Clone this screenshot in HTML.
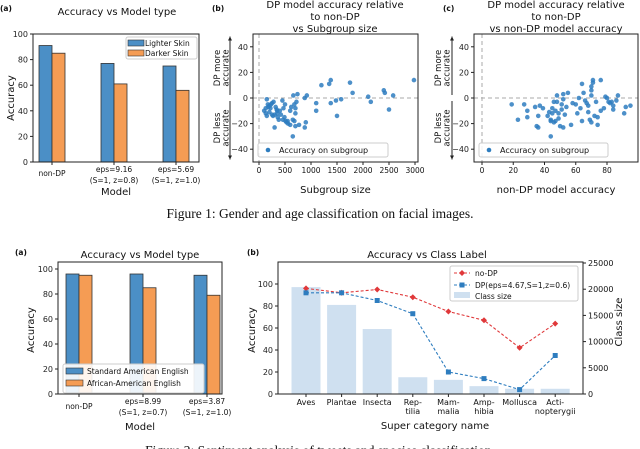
<!DOCTYPE html>
<html><head><meta charset="utf-8">
<style>
html,body{margin:0;padding:0;background:#fff;}
svg{display:block;font-family:"DejaVu Sans","Liberation Sans",sans-serif;}
.cap{font-family:"Liberation Serif",serif;font-size:13.5px;fill:#111;}
</style></head>
<body>
<svg id="fig" width="640" height="449" viewBox="0 0 640 449" xmlns="http://www.w3.org/2000/svg">
<text class="cap" x="320" y="218" text-anchor="middle">Figure 1: Gender and age classification on facial images.</text>
<text class="cap" x="320" y="455" text-anchor="middle">Figure 2: Sentiment analysis of tweets and species classification.</text>
</svg>
<script>
// ---------- data ----------
const f1aCats = [["non-DP"],["eps=9.16","(S=1, z=0.8)"],["eps=5.69","(S=1, z=1.0)"]];
const f1aLight = [91, 77, 75];
const f1aDark = [85, 61, 56];
const f1aTicks = [0,20,40,60,80,100];

const f1bX = [150,100,130,150,170,180,200,220,250,280,300,320,340,360,380,400,420,450,470,490,510,530,560,600,620,650,660,680,700,700,720,740,770,650,300,880,900,880,920,1100,1100,1200,1350,1380,1380,1480,1500,1580,1750,1800,2100,2150,2400,2420,2500,2580,2980,130,200,250,350,460,550,680,700,500,600,350,230,270];
const f1bY = [-1,-10,-12,-14,-5,-7,-6,-8,-4,-3,-13,-7,-9,-15,-17,-10,-13,-2,-8,-15,-18,-19,-20,-21,-7,-17,2,-5,-8,-22,-3,3,-21,-30,-23,-23,-19,0,2,-4,-10,10,11,14,-4,-2,-14,-1,12,4,1,-3,6,4,-9,2,14,-8,-11,-13,-12,-17,-18,-18,-12,-5,-10,-10,-5,-14];
const f1bTicks = [0,500,1000,1500,2000,2500,3000];
const f1yTicks = [-40,-20,0,20,40];

const f1cX = [19,23,27,29,29,34,35,36,36,37,39,42,43,44,44,44,45,45,46,46,47,47,48,48,49,49,50,51,51,52,52,52,53,54,55,57,58,60,61,62,63,64,64,65,66,67,68,68,69,70,70,70,70,71,71,72,73,74,74,76,76,78,79,80,81,82,83,84,84,86,87,91,92,95];
const f1cY = [-5,-17,-5,-10,-15,-7,-22,-23,-14,-6,-8,-14,-11,-17,-30,-18,-12,-8,-3,-19,-18,-10,-3,2,-12,-16,-22,-9,-5,-23,3,-1,-13,-7,4,-21,-4,-5,-12,0,-8,11,-18,4,-2,-4,-11,-6,-17,-19,9,6,2,12,14,-14,-3,-21,-15,-10,14,-8,1,0,-3,-4,-3,-6,-9,-2,2,-12,-7,-6];
const f1cTicks = [0,20,40,60,80];

const f2aCats = [["non-DP"],["eps=8.99","(S=1, z=0.7)"],["eps=3.87","(S=1, z=1.0)"]];
const f2aSAE = [96, 96, 95];
const f2aAAE = [95, 85, 79];

const f2bCats = [["Aves"],["Plantae"],["Insecta"],["Rep-","tilia"],["Mam-","malia"],["Amp-","hibia"],["Mollusca"],["Acti-","nopterygii"]];
const f2bSize = [20400, 17000, 12400, 3200, 2700, 1500, 1000, 1000];
const f2bNoDP = [96, 92, 95, 88, 75, 67, 42, 64];
const f2bDP = [92, 92, 85, 73, 20, 14, 4, 35];
const f2bLeftTicks = [0,20,40,60,80,100];
const f2bRightTicks = [0,5000,10000,15000,20000,25000];

// ---------- helpers ----------
const NS = "http://www.w3.org/2000/svg";
const svg = document.getElementById("fig");
function el(tag, attrs, parent, txt){
  const e = document.createElementNS(NS, tag);
  for (const k in attrs) e.setAttribute(k, attrs[k]);
  if (txt !== undefined) e.textContent = txt;
  (parent || svg).appendChild(e);
  return e;
}
function lin(d0,d1,r0,r1){ return v => r0 + (v-d0)*(r1-r0)/(d1-d0); }
const BLUE="#4b8fc6", ORANGE="#f59c54", EDGE="#333";

function frame(x0,y0,x1,y1,name){
  const r = el("rect",{x:x0,y:y0,width:x1-x0,height:y1-y0,fill:"none",stroke:"#222","stroke-width":1});
  
  
}
function yTicks(ticks, y, x0, name, fmt){
  ticks.forEach(t=>{
    el("line",{x1:x0-3,x2:x0,y1:y(t),y2:y(t),stroke:"#222"});
    const tx = el("text",{x:x0-5,y:y(t)+3,"font-size":8,"text-anchor":"end",fill:"#222"},svg,fmt?fmt(t):(t<0?"\u2212"+(-t):t));
    
    
  });
}
function text(x,y,s,size,name,opts){
  const a = Object.assign({x:x,y:y,"font-size":size,"text-anchor":"middle",fill:"#111"},opts||{});
  const t = el("text",a,svg,s);
  
  
  return t;
}

// ---------- Fig1 (a) ----------
(function(){
  const x0=33,x1=199,y0=34,y1=162;
  const y = lin(0,100,y1,y0);
  const centers=[52,114,176], bw=13;
  f1aLight.forEach((v,i)=>{
    const r=el("rect",{x:centers[i]-bw,y:y(v),width:bw,height:y(0)-y(v),fill:BLUE,stroke:EDGE,"stroke-width":0.8});
    
    
  });
  f1aDark.forEach((v,i)=>{
    const r=el("rect",{x:centers[i],y:y(v),width:bw,height:y(0)-y(v),fill:ORANGE,stroke:EDGE,"stroke-width":0.8});
    
    
  });
  frame(x0,y0,x1,y1,"plot-frame-1a");
  yTicks(f1aTicks,y,x0,"y-tick-label-1a");
  f1aCats.forEach((c,i)=>{
    el("line",{x1:centers[i],x2:centers[i],y1:y1,y2:y1+3,stroke:"#222"});
    if(c.length===1) text(centers[i],y1+14,c[0],7.5,"x-tick-label-1a");
    else { text(centers[i],y1+10,c[0],7.5,"x-tick-label-1a"); text(centers[i],y1+21,c[1],7.5,"x-tick-label-1a"); }
  });
  text(116,195,"Model",10,"x-axis-title-1a");
  text(10,98,"Accuracy",10,"y-axis-title-1a",{transform:"rotate(-90 10 98)",x:10,y:98+4});
  text(117,15,"Accuracy vs Model type",10,"chart-title-1a");
  text(0,11,"(a)",7.5,"panel-label-1a",{"text-anchor":"start","font-weight":"bold"});
  const lg=el("g",{});
  
  
  el("rect",{x:126,y:37,width:71,height:22,fill:"#fff",stroke:"#ccc",rx:2},lg);
  el("rect",{x:128,y:40,width:16,height:6,fill:BLUE,stroke:EDGE,"stroke-width":0.6},lg);
  el("text",{x:145,y:46,"font-size":7.5,fill:"#111"},lg,"Lighter Skin");
  el("rect",{x:128,y:50,width:16,height:6,fill:ORANGE,stroke:EDGE,"stroke-width":0.6},lg);
  el("text",{x:145,y:56,"font-size":7.5,fill:"#111"},lg,"Darker Skin");
})();

// ---------- scatter panel helper ----------
function scatter(opt){
  const {x0,x1,y0,y1,xd,xr,xs,ys,xt,name,legX,legW,labX,titles,titleX,xlabel,arrowX} = opt;
  const x = lin(xd[0],xd[1],xr[0],xr[1]);
  const y = lin(-50,50,y1,y0);
  el("line",{x1:x(0),x2:x(0),y1:y0,y2:y1,stroke:"#aaa","stroke-dasharray":"4,3"});
  el("line",{x1:x0,x2:x1,y1:y(0),y2:y(0),stroke:"#aaa","stroke-dasharray":"4,3"});
  xs.forEach((v,i)=>{
    const c=el("circle",{cx:x(v),cy:y(ys[i]),r:2.3,fill:"#2e7dbf","fill-opacity":0.85});
    
    
  });
  frame(x0,y0,x1,y1,"plot-frame-"+name);
  yTicks(f1yTicks,y,x0,"y-tick-label-"+name);
  xt.forEach(t=>{
    el("line",{x1:x(t),x2:x(t),y1:y1,y2:y1+3,stroke:"#222"});
    text(x(t),y1+11,String(t),7.5,"x-tick-label-"+name);
  });
  text((x0+x1)/2,193,xlabel,10,"x-axis-title-"+name);
  titles.forEach((s,i)=>text(titleX,8+i*12,s,10,"chart-title-"+name));
  const lg=el("g",{});
  
  
  el("rect",{x:legX,y:143,width:legW,height:14,fill:"#fff","fill-opacity":0.85,stroke:"#ccc",rx:2},lg);
  el("circle",{cx:legX+10,cy:150,r:2.3,fill:"#2e7dbf"},lg);
  el("text",{x:legX+21,y:153,"font-size":8,fill:"#111"},lg,"Accuracy on subgroup");
  const ay0=y(0);
  el("line",{x1:arrowX,x2:arrowX,y1:ay0-3,y2:y(48),stroke:"#222"});
  el("path",{d:`M${arrowX-2},${y(48)+4} L${arrowX},${y(48)} L${arrowX+2},${y(48)+4}Z`,fill:"#222"});
  el("line",{x1:arrowX,x2:arrowX,y1:ay0+3,y2:y(-48),stroke:"#222"});
  el("path",{d:`M${arrowX-2},${y(-48)-4} L${arrowX},${y(-48)} L${arrowX+2},${y(-48)-4}Z`,fill:"#222"});
  const my=(y0+ay0)/2+2, ly=(ay0+y1)/2-2;
  text(labX,my,"DP more",8.5,"side-label-"+name,{transform:`rotate(-90 ${labX} ${my})`});
  text(labX+8.5,my,"accurate",8.5,"side-label-"+name,{transform:`rotate(-90 ${labX+8.5} ${my})`});
  text(labX,ly,"DP less",8.5,"side-label-"+name,{transform:`rotate(-90 ${labX} ${ly})`});
  text(labX+8.5,ly,"accurate",8.5,"side-label-"+name,{transform:`rotate(-90 ${labX+8.5} ${ly})`});
}
scatter({x0:253,x1:418,y0:34,y1:162,xd:[0,3000],xr:[259,415],xs:f1bX,ys:f1bY,xt:f1bTicks,name:"1b",legX:258,legW:130,labX:220,arrowX:230,
  titles:["DP model accuracy relative","to non-DP","vs Subgroup size"],titleX:335,xlabel:"Subgroup size"});
text(212,11,"(b)",7.5,"panel-label-1b",{"text-anchor":"start","font-weight":"bold"});
scatter({x0:474,x1:638,y0:34,y1:162,xd:[0,80],xr:[482,607],xs:f1cX,ys:f1cY,xt:f1cTicks,name:"1c",legX:479,legW:129,labX:441,arrowX:452,
  titles:["DP model accuracy relative","to non-DP","vs non-DP model accuracy"],titleX:556,xlabel:"non-DP model accuracy"});
text(443,11,"(c)",7.5,"panel-label-1c",{"text-anchor":"start","font-weight":"bold"});

// ---------- Fig2 (a) ----------
(function(){
  const x0=58,x1=222,y0=262,y1=394;
  const y = lin(0,100,y1,269);
  const centers=[79,143,207], bw=13;
  f2aSAE.forEach((v,i)=>{
    const r=el("rect",{x:centers[i]-bw,y:y(v),width:bw,height:y(0)-y(v),fill:BLUE,stroke:EDGE,"stroke-width":0.8});
    
    
  });
  f2aAAE.forEach((v,i)=>{
    const r=el("rect",{x:centers[i],y:y(v),width:bw,height:y(0)-y(v),fill:ORANGE,stroke:EDGE,"stroke-width":0.8});
    
    
  });
  const lg=el("g",{});
  
  
  el("rect",{x:63,y:364,width:141,height:29,fill:"#fff","fill-opacity":0.9,stroke:"#ccc",rx:2},lg);
  el("rect",{x:66,y:368,width:17,height:6,fill:BLUE,stroke:EDGE,"stroke-width":0.6},lg);
  el("text",{x:87,y:374,"font-size":7.5,fill:"#111"},lg,"Standard American English");
  el("rect",{x:66,y:380,width:17,height:6,fill:ORANGE,stroke:EDGE,"stroke-width":0.6},lg);
  el("text",{x:87,y:386,"font-size":7.5,fill:"#111"},lg,"African-American English");
  frame(x0,y0,x1,y1,"plot-frame-2a");
  yTicks(f1aTicks,y,x0,"y-tick-label-2a");
  f2aCats.forEach((c,i)=>{
    el("line",{x1:centers[i],x2:centers[i],y1:y1,y2:y1+3,stroke:"#222"});
    if(c.length===1) text(centers[i],y1+15,c[0],7.5,"x-tick-label-2a");
    else { text(centers[i],y1+10,c[0],7.5,"x-tick-label-2a"); text(centers[i],y1+21,c[1],7.5,"x-tick-label-2a"); }
  });
  text(140,430,"Model",10,"x-axis-title-2a");
  text(30,334,"Accuracy",10,"y-axis-title-2a",{transform:"rotate(-90 30 330)",x:30,y:334});
  text(140,258,"Accuracy vs Model type",10,"chart-title-2a");
  text(15,255,"(a)",7.5,"panel-label-2a",{"text-anchor":"start","font-weight":"bold"});
})();

// ---------- Fig2 (b) ----------
(function(){
  const x0=278,x1=583,y0=262,y1=394;
  const y = lin(0,100,y1,284);
  const yr = lin(0,25000,y1,263);
  const cx = i => 306 + i*35.6;
  f2bSize.forEach((v,i)=>{
    const r=el("rect",{x:cx(i)-14.5,y:yr(v),width:29,height:yr(0)-yr(v),fill:"#cfe0f0"});
    
    
  });
  const pn=f2bNoDP.map((v,i)=>cx(i)+","+y(v)).join(" ");
  const l1=el("polyline",{points:pn,fill:"none",stroke:"#e0383a","stroke-width":1.1,"stroke-dasharray":"3,2"});
  
  
  const pd=f2bDP.map((v,i)=>cx(i)+","+y(v)).join(" ");
  const l2=el("polyline",{points:pd,fill:"none",stroke:"#2e7dbf","stroke-width":1.1,"stroke-dasharray":"3,2"});
  
  
  f2bNoDP.forEach((v,i)=>{
    const m=el("path",{d:`M${cx(i)-3},${y(v)} L${cx(i)},${y(v)-3} L${cx(i)+3},${y(v)} L${cx(i)},${y(v)+3}Z`,fill:"#e0383a"});
    
    
  });
  f2bDP.forEach((v,i)=>{
    const m=el("rect",{x:cx(i)-2.5,y:y(v)-2.5,width:5,height:5,fill:"#2e7dbf"});
    
    
  });
  frame(x0,y0,x1,y1,"plot-frame-2b");
  yTicks(f2bLeftTicks,y,x0,"y-tick-label-2b");
  f2bRightTicks.forEach(t=>{
    el("line",{x1:x1,x2:x1+3,y1:yr(t),y2:yr(t),stroke:"#222"});
    text(x1+5,yr(t)+3,String(t),8,"y2-tick-label-2b",{"text-anchor":"start"});
  });
  f2bCats.forEach((c,i)=>{
    el("line",{x1:cx(i),x2:cx(i),y1:y1,y2:y1+3,stroke:"#222"});
    text(cx(i),y1+11,c[0],8,"x-tick-label-2b");
    if(c[1]) text(cx(i),y1+20,c[1],8,"x-tick-label-2b");
  });
  text(435,429,"Super category name",10,"x-axis-title-2b");
  text(255,330,"Accuracy",10,"y-axis-title-2b",{transform:"rotate(-90 255 330)",x:255,y:330});
  text(622,322,"Class size",10,"y2-axis-title-2b",{transform:"rotate(-90 622 322)",x:622,y:322});
  text(427,258,"Accuracy vs Class Label",10,"chart-title-2b");
  text(247,255,"(b)",7.5,"panel-label-2b",{"text-anchor":"start","font-weight":"bold"});
  const lg=el("g",{});
  
  
  el("rect",{x:450,y:266,width:128,height:35,fill:"#fff","fill-opacity":0.9,stroke:"#ccc",rx:2},lg);
  el("line",{x1:454,x2:470,y1:273,y2:273,stroke:"#e0383a","stroke-dasharray":"3,2"},lg);
  el("path",{d:"M459,273 L462,270 L465,273 L462,276Z",fill:"#e0383a"},lg);
  el("text",{x:475,y:276,"font-size":7.5,fill:"#111"},lg,"no-DP");
  el("line",{x1:454,x2:470,y1:285,y2:285,stroke:"#2e7dbf","stroke-dasharray":"3,2"},lg);
  el("rect",{x:459.5,y:282.5,width:5,height:5,fill:"#2e7dbf"},lg);
  el("text",{x:475,y:288,"font-size":7.5,fill:"#111"},lg,"DP(eps=4.67,S=1,z=0.6)");
  el("rect",{x:454,y:292,width:16,height:6,fill:"#cfe0f0"},lg);
  el("text",{x:475,y:299,"font-size":7.5,fill:"#111"},lg,"Class size");
})();
</script>
</body></html>
